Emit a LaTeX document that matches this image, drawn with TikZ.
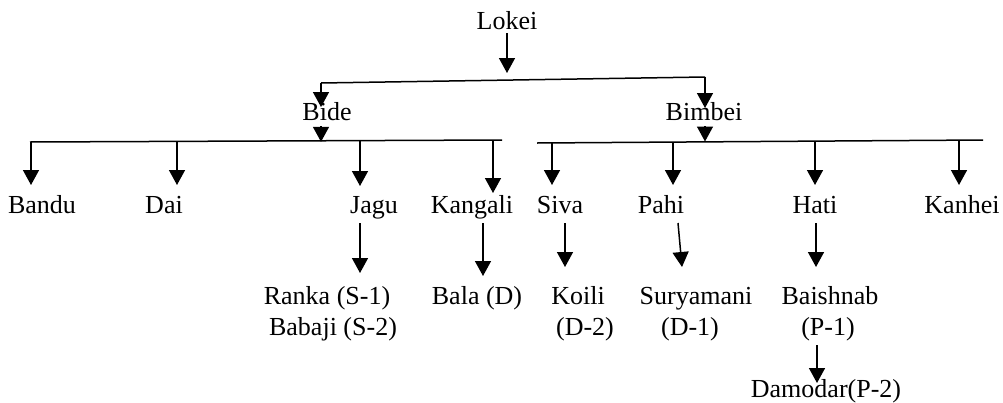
\documentclass[tikz,border=0pt]{standalone}
\usepackage{fontspec}
\setmainfont{Liberation Serif}
\usetikzlibrary{arrows.meta}
\begin{document}
\begin{tikzpicture}[x=1pt,y=-1pt,
  lbl/.style={anchor=base,inner sep=0pt,font=\fontsize{26}{31}\selectfont},
  ln/.style={line width=1.5pt},
  arr/.style={line width=1.5pt,-{Triangle[width=16pt,length=15pt]}}]
\useasboundingbox (0,0) rectangle (1003,402);
% nodes
\node[lbl] (lokei) at (507,29) {Lokei};
\node[lbl] (bide) at (327,120) {Bide};
\node[lbl] (bimbei) at (704,120) {Bimbei};
\node[lbl] (bandu) at (42,213) {Bandu};
\node[lbl] (dai) at (164,213) {Dai};
\node[lbl] (jagu) at (374,213) {Jagu};
\node[lbl] (kangali) at (472,213) {Kangali};
\node[lbl] (siva) at (560,213) {Siva};
\node[lbl] (pahi) at (661,213) {Pahi};
\node[lbl] (hati) at (815,213) {Hati};
\node[lbl] (kanhei) at (962,213) {Kanhei};
\node[lbl] (ranka) at (327,304) {Ranka (S-1)};
\node[lbl] (babaji) at (333,335) {Babaji (S-2)};
\node[lbl] (bala) at (477,304) {Bala (D)};
\node[lbl] (koili) at (578,304) {Koili};
\node[lbl] (koili2) at (585,335) {(D-2)};
\node[lbl] (surya) at (696,304) {Suryamani};
\node[lbl] (surya2) at (690,335) {(D-1)};
\node[lbl] (baish) at (830,304) {Baishnab};
\node[lbl] (baish2) at (828,335) {(P-1)};
\node[lbl] (damodar) at (826,397) {Damodar(P-2)};
% coordinates
\coordinate (lokeiout) at (507,33);
\coordinate (lokeiin) at (507,73);
\coordinate (topL) at (321,83);
\coordinate (topR) at (705,77);
\coordinate (bideIn) at (321,107);
\coordinate (bimbeiIn) at (705,108);
\coordinate (bideOut) at (321,126);
\coordinate (bideBar) at (321,141.8);
\coordinate (bimbeiOut) at (705,126);
\coordinate (bimbeiBar) at (705,141.5);
\coordinate (barLL) at (30,142);
\coordinate (barLR) at (502,140);
\coordinate (barRL) at (537,143);
\coordinate (barRR) at (983,140);
% top level
\draw[arr] (lokeiout) -- (lokeiin);
\draw[ln] (topL) -- (topR);
\draw[arr] (topL) -- (bideIn);
\draw[arr] (topR) -- (bimbeiIn);
\draw[arr] (bideOut) -- (bideBar);
\draw[arr] (bimbeiOut) -- (bimbeiBar);
\draw[ln] (barLL) -- (barLR);
\draw[ln] (barRL) -- (barRR);
% children of Bide
\draw[arr] (31,142) -- (31,185);
\draw[arr] (177,141.5) -- (177,185);
\draw[arr] (360,140.8) -- (360,186);
\draw[arr] (493,140.2) -- (493,193);
% children of Bimbei
\draw[arr] (552,142.8) -- (552,185);
\draw[arr] (673,142) -- (673,185);
\draw[arr] (815,141) -- (815,185);
\draw[arr] (959,140.2) -- (959,185);
% grandchildren
\draw[arr] (360,223) -- (360,273);
\draw[arr] (483,223) -- (483,276);
\draw[arr] (565,223) -- (565,267);
\draw[arr] (678,223) -- (682,267);
\draw[arr] (816,223) -- (816,267);
\draw[arr] (817,345) -- (817,383);
\end{tikzpicture}
\end{document}
